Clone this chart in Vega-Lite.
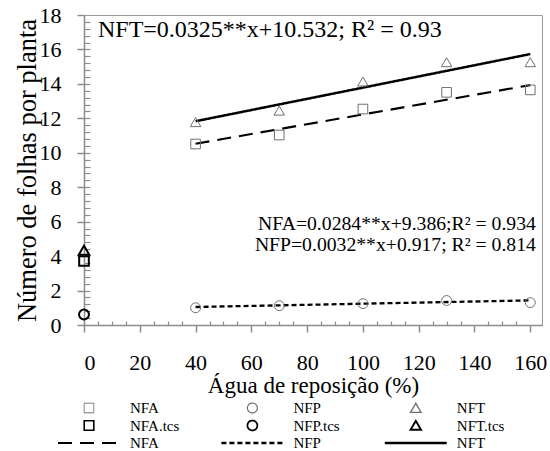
{
  "$schema": "https://vega.github.io/schema/vega-lite/v6.json",
  "width": 458,
  "height": 310,
  "autosize": {"type": "none"},
  "padding": {"left": 84, "top": 15, "right": 8, "bottom": 126},
  "background": "white",
  "config": {
    "font": "Liberation Serif",
    "view": {"stroke": "#9a9a9a", "strokeWidth": 1},
    "axis": {"grid": false, "labelOverlap": false}
  },
  "datasets": {
    "fits": [
      {"x": 40, "y": 10.522, "series": "NFA fit"},
      {"x": 160, "y": 13.93, "series": "NFA fit"},
      {"x": 40, "y": 1.045, "series": "NFP fit"},
      {"x": 160, "y": 1.429, "series": "NFP fit"},
      {"x": 40, "y": 11.832, "series": "NFT fit"},
      {"x": 160, "y": 15.732, "series": "NFT fit"}
    ],
    "obs": [
      {"x": 40, "y": 10.51, "series": "NFA"},
      {"x": 70, "y": 11.03, "series": "NFA"},
      {"x": 100, "y": 12.54, "series": "NFA"},
      {"x": 130, "y": 13.51, "series": "NFA"},
      {"x": 160, "y": 13.65, "series": "NFA"},
      {"x": 40, "y": 1.0, "series": "NFP"},
      {"x": 70, "y": 1.12, "series": "NFP"},
      {"x": 100, "y": 1.24, "series": "NFP"},
      {"x": 130, "y": 1.42, "series": "NFP"},
      {"x": 160, "y": 1.3, "series": "NFP"},
      {"x": 40, "y": 11.77, "series": "NFT"},
      {"x": 70, "y": 12.44, "series": "NFT"},
      {"x": 100, "y": 14.13, "series": "NFT"},
      {"x": 130, "y": 15.25, "series": "NFT"},
      {"x": 160, "y": 15.25, "series": "NFT"}
    ],
    "tcs": [
      {"x": 0, "y": 3.72, "series": "NFA.tcs"},
      {"x": 0, "y": 0.61, "series": "NFP.tcs"},
      {"x": 0, "y": 4.33, "series": "NFT.tcs"}
    ],
    "eqTop": [
      {"x": 5, "y": 17.13, "label": "NFT=0.0325**x+10.532; R² = 0.93"}
    ],
    "eqBottom": [
      {"x": 162, "y": 5.86, "label": "NFA=0.0284**x+9.386;R² = 0.934"},
      {"x": 162, "y": 4.62, "label": "NFP=0.0032**x+0.917; R² = 0.814"}
    ]
  },
  "resolve": {"axis": {"x": "independent", "y": "independent"}},
  "layer": [
    {
      "data": {"name": "fits"},
      "mark": {"type": "line"},
      "encoding": {
        "x": {
          "field": "x", "type": "quantitative",
          "scale": {"domain": [0, 164.2], "nice": false, "zero": false},
          "axis": {
            "orient": "bottom",
            "values": [0, 20, 40, 60, 80, 100, 120, 140, 160],
            "title": "Água de reposição (%)",
            "titleFont": "Liberation Serif", "titleFontSize": 23, "titleFontWeight": "normal", "titleColor": "black", "titlePadding": 1,
            "labelFont": "Liberation Serif", "labelFontSize": 22, "labelColor": "black", "labelPadding": 20,
            "tickSize": 7, "tickColor": "#8c8c8c", "tickWidth": 1.5,
            "domainColor": "#8c8c8c", "domainWidth": 1.5
          }
        },
        "y": {
          "field": "y", "type": "quantitative",
          "scale": {"domain": [0, 18], "nice": false, "zero": false},
          "axis": {
            "orient": "left",
            "values": [0, 2, 4, 6, 8, 10, 12, 14, 16, 18],
            "title": "Número de folhas por planta",
            "titleFont": "Liberation Serif", "titleFontSize": 26.5, "titleFontWeight": "normal", "titleColor": "black", "titlePadding": -2,
            "labelFont": "Liberation Serif", "labelFontSize": 22, "labelColor": "black", "labelPadding": 16,
            "tickSize": 7, "tickColor": "#8c8c8c", "tickWidth": 1.5,
            "domainColor": "#8c8c8c", "domainWidth": 1.5
          }
        },
        "color": {
          "field": "series", "type": "nominal",
          "scale": {
            "domain": ["NFA", "NFP", "NFT", "NFA.tcs", "NFP.tcs", "NFT.tcs", "NFA fit", "NFP fit", "NFT fit"],
            "range": ["#707070", "#707070", "#707070", "#000000", "#000000", "#000000", "#000000", "#000000", "#000000"]
          },
          "legend": {
            "orient": "none", "legendX": -27.5, "legendY": 385,
            "direction": "horizontal",
            "columns": 3, "title": null, "padding": 0,
            "symbolSize": 3844, "symbolFillColor": "transparent",
            "clipHeight": 16, "gridAlign": "all",
            "labelFont": "Liberation Serif", "labelFontSize": 15, "labelColor": "black",
            "labelOffset": 8.5, "columnPadding": 40.4, "rowPadding": 1.5,
            "labelExpr": "replace(datum.label, ' fit', '')",
            "encode": {
              "symbols": {
                "update": {
                  "fill": {"value": "transparent"},
                  "opacity": {"value": 1}
                }
              }
            }
          }
        },
        "strokeDash": {
          "field": "series", "type": "nominal",
          "scale": {
            "domain": ["NFA", "NFP", "NFT", "NFA.tcs", "NFP.tcs", "NFT.tcs", "NFA fit", "NFP fit", "NFT fit"],
            "range": [[1, 0], [1, 0], [1, 0], [1, 0], [1, 0], [1, 0], [14, 8], [5, 3], [1, 0]]
          }
        },
        "strokeWidth": {
          "field": "series", "type": "nominal",
          "scale": {
            "type": "point", "padding": 0,
            "domain": ["NFA", "NFP", "NFT", "NFA.tcs", "NFP.tcs", "NFT.tcs", "NFA fit", "NFP fit", "NFT fit"],
            "range": [1, 2.5]
          }
        }
      }
    },
    {
      "data": {"name": "obs"},
      "mark": {"type": "point", "filled": false, "strokeWidth": 1, "size": 3844, "opacity": 1},
      "encoding": {
        "x": {"field": "x", "type": "quantitative", "axis": null},
        "y": {"field": "y", "type": "quantitative", "axis": null},
        "color": {"field": "series", "type": "nominal"},
        "shape": {
          "field": "series", "type": "nominal",
          "scale": {
            "domain": ["NFA", "NFP", "NFT", "NFA.tcs", "NFP.tcs", "NFT.tcs", "NFA fit", "NFP fit", "NFT fit"],
            "range": [
              "M-0.155,-0.155H0.155V0.155H-0.155Z",
              "M0.16,0A0.16,0.16,0,1,1,-0.16,0A0.16,0.16,0,1,1,0.16,0Z",
              "M0,-0.15L0.17,0.14L-0.17,0.14Z",
              "M-0.155,-0.155H0.155V0.155H-0.155Z",
              "M0.16,0A0.16,0.16,0,1,1,-0.16,0A0.16,0.16,0,1,1,0.16,0Z",
              "M0,-0.15L0.17,0.14L-0.17,0.14Z",
              "stroke", "stroke", "stroke"
            ]
          }
        }
      }
    },
    {
      "data": {"name": "tcs"},
      "mark": {"type": "point", "filled": false, "strokeWidth": 2, "size": 3844, "opacity": 1},
      "encoding": {
        "x": {"field": "x", "type": "quantitative", "axis": null},
        "y": {"field": "y", "type": "quantitative", "axis": null},
        "color": {"field": "series", "type": "nominal"},
        "shape": {"field": "series", "type": "nominal"}
      }
    },
    {
      "data": {"name": "eqTop"},
      "mark": {"type": "text", "align": "left", "baseline": "middle", "font": "Liberation Serif", "fontSize": 24, "color": "black"},
      "encoding": {
        "x": {"field": "x", "type": "quantitative", "axis": null},
        "y": {"field": "y", "type": "quantitative", "axis": null},
        "text": {"field": "label"}
      }
    },
    {
      "data": {"name": "eqBottom"},
      "mark": {"type": "text", "align": "right", "baseline": "middle", "font": "Liberation Serif", "fontSize": 19.7, "color": "black"},
      "encoding": {
        "x": {
          "field": "x", "type": "quantitative",
          "axis": {
            "orient": "bottom", "title": null, "labels": false, "domain": false,
            "values": [5, 10, 15, 25, 30, 35, 45, 50, 55, 65, 70, 75, 85, 90, 95, 105, 110, 115, 125, 130, 135, 145, 150, 155],
            "tickSize": -4, "tickColor": "#8c8c8c", "tickWidth": 1.2
          }
        },
        "y": {
          "field": "y", "type": "quantitative",
          "axis": {
            "orient": "left", "title": null, "labels": false, "domain": false,
            "values": [0.4, 0.8, 1.2, 1.6, 2, 2.4, 2.8, 3.2, 3.6, 4, 4.4, 4.8, 5.2, 5.6, 6, 6.4, 6.8, 7.2, 7.6, 8, 8.4, 8.8, 9.2, 9.6, 10, 10.4, 10.8, 11.2, 11.6, 12, 12.4, 12.8, 13.2, 13.6, 14, 14.4, 14.8, 15.2, 15.6, 16, 16.4, 16.8, 17.2, 17.6],
            "tickSize": -6, "tickColor": "#8c8c8c", "tickWidth": 1.2
          }
        },
        "text": {"field": "label"}
      }
    }
  ]
}
